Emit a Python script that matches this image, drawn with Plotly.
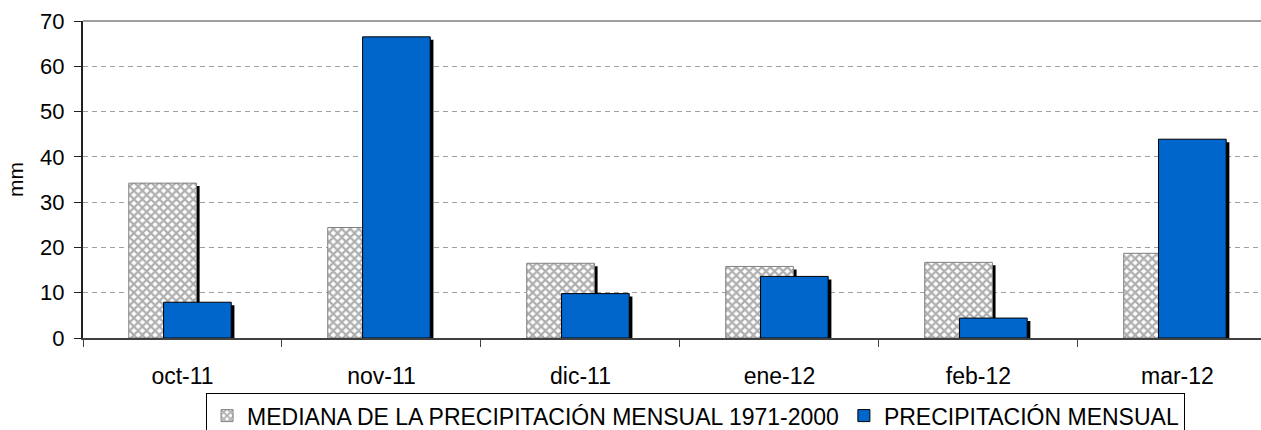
import plotly.graph_objects as go

categories = ["oct-11", "nov-11", "dic-11", "ene-12", "feb-12", "mar-12"]
mediana = [34.2, 24.4, 16.5, 15.8, 16.7, 18.7]
precipitacion = [7.9, 66.5, 9.8, 13.6, 4.4, 43.9]
y_ticks = [0, 10, 20, 30, 40, 50, 60, 70]

name_med = "MEDIANA DE LA PRECIPITACIÓN MENSUAL 1971-2000"
name_pre = "PRECIPITACIÓN MENSUAL"

x = list(range(len(categories)))
W = 0.34
OFF_MED = -0.27
OFF_PRE = -0.095
SH_DX = 0.016
SH_DY = 0.66

fig = go.Figure()
fig.add_trace(go.Bar(x=x, y=[v - SH_DY for v in mediana], width=W, offset=OFF_MED + SH_DX,
                     marker=dict(color="black", line=dict(width=0)), showlegend=False, hoverinfo="skip"))
fig.add_trace(go.Bar(x=x, y=mediana, width=W, offset=OFF_MED, name=name_med,
                     marker=dict(color="white", line=dict(color="#808080", width=1),
                                 pattern=dict(shape="x", fgcolor="#5e5e5e", bgcolor="white",
                                              size=6, solidity=0.6))))
fig.add_trace(go.Bar(x=x, y=[v - SH_DY for v in precipitacion], width=W, offset=OFF_PRE + SH_DX,
                     marker=dict(color="black", line=dict(width=0)), showlegend=False, hoverinfo="skip"))
fig.add_trace(go.Bar(x=x, y=precipitacion, width=W, offset=OFF_PRE, name=name_pre,
                     marker=dict(color="#0066CC", line=dict(color="black", width=1))))

fig.update_layout(
    width=1261, height=430,
    margin=dict(l=83, r=0, t=21, b=92, autoexpand=False),
    paper_bgcolor="white", plot_bgcolor="white",
    barmode="overlay",
    font=dict(family="Liberation Sans, Arial, sans-serif", color="black", size=22),
    showlegend=True,
    legend=dict(orientation="h", x=0.52, xanchor="center", y=-0.174, yanchor="top",
                bordercolor="black", borderwidth=1, bgcolor="white",
                font=dict(size=23), traceorder="normal"),
    shapes=[dict(type="line", xref="paper", yref="paper", x0=0, x1=1, y0=1, y1=1,
                 line=dict(color="#a0a0a0", width=2))],
)
fig.update_xaxes(
    range=[-0.5, 5.42], tickvals=x, ticktext=categories,
    automargin=False,
    showgrid=False, zeroline=False,
    showline=True, linecolor="#404040", linewidth=2,
    ticks="outside", ticklen=16, tickcolor="rgba(0,0,0,0)",
    tickfont=dict(size=23),
    minor=dict(tickvals=[i - 0.5 for i in range(len(categories) + 1)], ticks="outside",
               ticklen=7, tickcolor="#404040", tickwidth=1, showgrid=False),
)
fig.update_yaxes(
    range=[0, 70], tickvals=y_ticks,
    automargin=False,
    showgrid=True, gridcolor="#a0a0a0", griddash="5px,4px", gridwidth=1,
    zeroline=False,
    showline=True, linecolor="#202020", linewidth=2,
    ticks="outside", ticklen=7, tickcolor="#202020",
    tickfont=dict(size=22),
    ticklabelstandoff=5,
    title=dict(text="mm", font=dict(size=21), standoff=11),
)
fig.write_html("out.html", config={"displayModeBar": False},
               post_script="document.body.style.margin='0';document.body.style.overflow='hidden';")
